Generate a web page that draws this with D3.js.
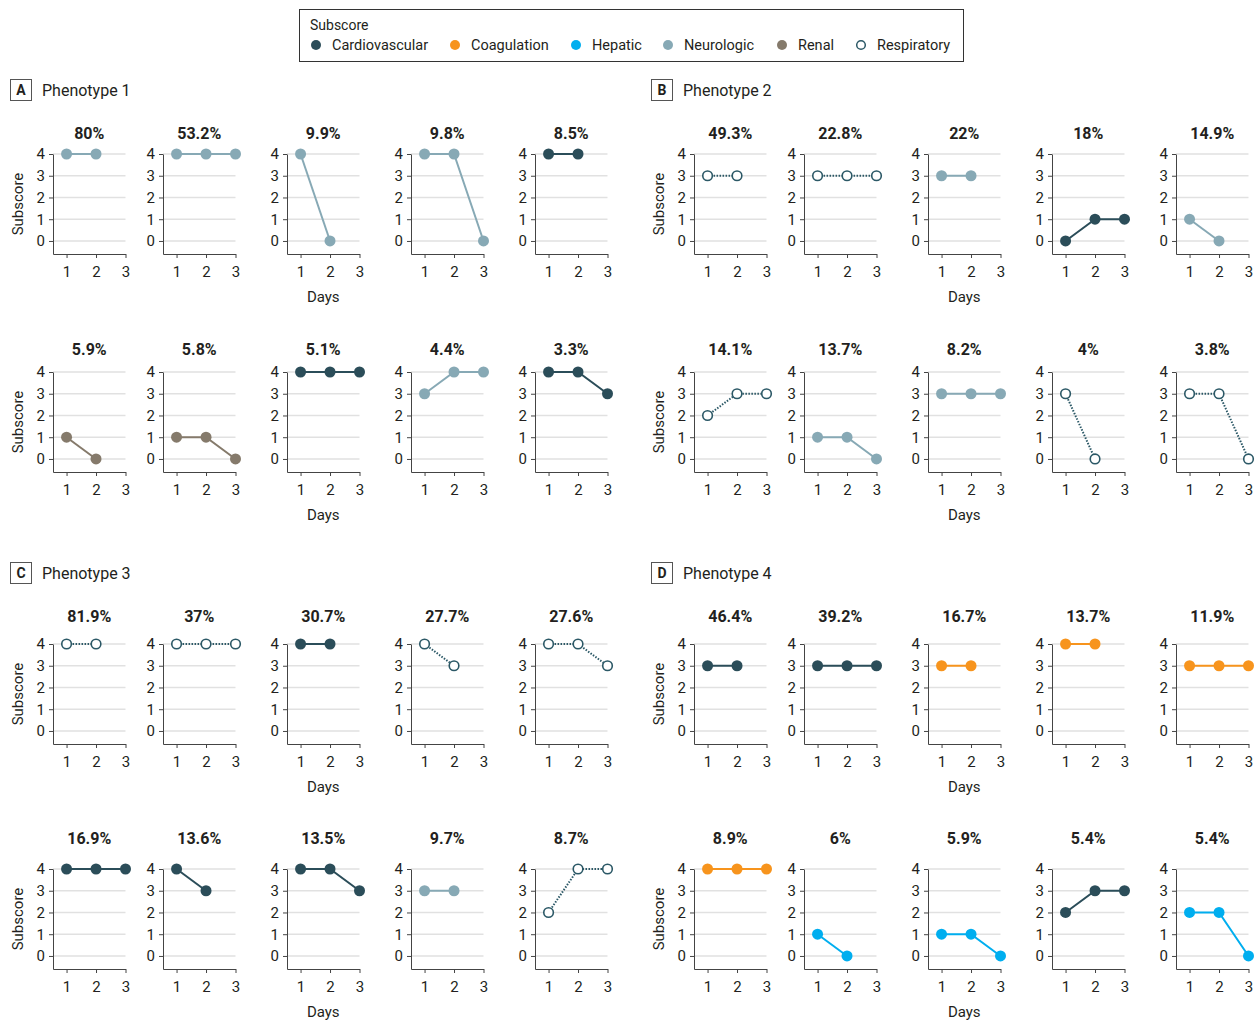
<!DOCTYPE html>
<html>
<head>
<meta charset="utf-8">
<script src="https://cdn.jsdelivr.net/npm/d3@7"></script>
<style>
  body { margin: 0; background: #fff; }
  text { font-family: Roboto, "Noto Sans", sans-serif; fill: #231f20; }
</style>
</head>
<body>
<svg id="chart"></svg>
<script>
// subscore categories and their legend order
var subscores = ["Cardiovascular", "Coagulation", "Hepatic", "Neurologic", "Renal", "Respiratory"];

var panelLetters = ["A", "B", "C", "D"];
var panelTitles = ["Phenotype 1", "Phenotype 2", "Phenotype 3", "Phenotype 4"];

var dayTicks = [1, 2, 3];
var scoreTicks = [0, 1, 2, 3, 4];

// each subplot: percentage label, subscore, values for day 1..n
var phenotype1 = [
  {pct: "80%",   sub: "Neurologic",     scores: [4, 4]},
  {pct: "53.2%", sub: "Neurologic",     scores: [4, 4, 4]},
  {pct: "9.9%",  sub: "Neurologic",     scores: [4, 0]},
  {pct: "9.8%",  sub: "Neurologic",     scores: [4, 4, 0]},
  {pct: "8.5%",  sub: "Cardiovascular", scores: [4, 4]},
  {pct: "5.9%",  sub: "Renal",          scores: [1, 0]},
  {pct: "5.8%",  sub: "Renal",          scores: [1, 1, 0]},
  {pct: "5.1%",  sub: "Cardiovascular", scores: [4, 4, 4]},
  {pct: "4.4%",  sub: "Neurologic",     scores: [3, 4, 4]},
  {pct: "3.3%",  sub: "Cardiovascular", scores: [4, 4, 3]}
];
var phenotype2 = [
  {pct: "49.3%", sub: "Respiratory",    scores: [3, 3]},
  {pct: "22.8%", sub: "Respiratory",    scores: [3, 3, 3]},
  {pct: "22%",   sub: "Neurologic",     scores: [3, 3]},
  {pct: "18%",   sub: "Cardiovascular", scores: [0, 1, 1]},
  {pct: "14.9%", sub: "Neurologic",     scores: [1, 0]},
  {pct: "14.1%", sub: "Respiratory",    scores: [2, 3, 3]},
  {pct: "13.7%", sub: "Neurologic",     scores: [1, 1, 0]},
  {pct: "8.2%",  sub: "Neurologic",     scores: [3, 3, 3]},
  {pct: "4%",    sub: "Respiratory",    scores: [3, 0]},
  {pct: "3.8%",  sub: "Respiratory",    scores: [3, 3, 0]}
];
var phenotype3 = [
  {pct: "81.9%", sub: "Respiratory",    scores: [4, 4]},
  {pct: "37%",   sub: "Respiratory",    scores: [4, 4, 4]},
  {pct: "30.7%", sub: "Cardiovascular", scores: [4, 4]},
  {pct: "27.7%", sub: "Respiratory",    scores: [4, 3]},
  {pct: "27.6%", sub: "Respiratory",    scores: [4, 4, 3]},
  {pct: "16.9%", sub: "Cardiovascular", scores: [4, 4, 4]},
  {pct: "13.6%", sub: "Cardiovascular", scores: [4, 3]},
  {pct: "13.5%", sub: "Cardiovascular", scores: [4, 4, 3]},
  {pct: "9.7%",  sub: "Neurologic",     scores: [3, 3]},
  {pct: "8.7%",  sub: "Respiratory",    scores: [2, 4, 4]}
];
var phenotype4 = [
  {pct: "46.4%", sub: "Cardiovascular", scores: [3, 3]},
  {pct: "39.2%", sub: "Cardiovascular", scores: [3, 3, 3]},
  {pct: "16.7%", sub: "Coagulation",    scores: [3, 3]},
  {pct: "13.7%", sub: "Coagulation",    scores: [4, 4]},
  {pct: "11.9%", sub: "Coagulation",    scores: [3, 3, 3]},
  {pct: "8.9%",  sub: "Coagulation",    scores: [4, 4, 4]},
  {pct: "6%",    sub: "Hepatic",        scores: [1, 0]},
  {pct: "5.9%",  sub: "Hepatic",        scores: [1, 1, 0]},
  {pct: "5.4%",  sub: "Cardiovascular", scores: [2, 3, 3]},
  {pct: "5.4%",  sub: "Hepatic",        scores: [2, 2, 0]}
];
var phenotypes = [phenotype1, phenotype2, phenotype3, phenotype4];

var width = 1258;
var height = 1022;

var svg = d3.select("#chart")
    .attr("width", width)
    .attr("height", height);

var color = d3.scaleOrdinal()
    .domain(subscores)
    .range(["#2b4d59", "#f7941d", "#00aeef", "#87a9b5", "#857a6b", "#2b5866"]);

// layout
var panelX = [0, 641];
var colX = [53, 163, 287, 411, 535];
var rowTop = [[154, 372], [644, 869]];   // y of score 4, per panel-row then row
var titleY = [[133, 349], [616, 838]];
var headY = [90, 573];
var plotW = 72.5, plotH = 100;

var x = d3.scaleLinear().domain([0.54, 3]).range([0, plotW]);
var y = d3.scaleLinear().domain([-0.6, 4]).range([plotH, 0]);

var line = d3.line()
    .x((d, i) => x(i + 1))
    .y(d => y(d));

// legend
var legend = svg.append("g");
legend.append("rect")
    .attr("x", 299.5).attr("y", 9.5)
    .attr("width", 664).attr("height", 52)
    .attr("fill", "none").attr("stroke", "#333").attr("stroke-width", 1);
legend.append("text")
    .attr("x", 310).attr("y", 25).attr("dy", "0.35em")
    .style("font-size", "14px").text("Subscore");
var legendX = [316, 455, 576, 668, 782, 861];
subscores.forEach((s, i) => {
  var open = s === "Respiratory";
  legend.append("circle")
      .attr("cx", legendX[i]).attr("cy", 45)
      .attr("r", open ? 4.3 : 5)
      .attr("fill", open ? "#fff" : color(s))
      .attr("stroke", open ? color(s) : "none")
      .attr("stroke-width", 1.5);
  legend.append("text")
      .attr("x", legendX[i] + 16).attr("y", 45).attr("dy", "0.35em")
      .style("font-size", "14.5px").text(s);
});

phenotypes.forEach((data, p) => {
  var pr = Math.floor(p / 2);
  var px = panelX[p % 2];

  // panel heading
  var head = svg.append("g").attr("transform", `translate(${px},${headY[pr]})`);
  head.append("rect")
      .attr("x", 10.5).attr("y", -10.5)
      .attr("width", 21).attr("height", 21)
      .attr("fill", "none").attr("stroke", "#555");
  head.append("text")
      .attr("x", 21).attr("dy", "0.35em").attr("text-anchor", "middle")
      .style("font-size", "14px").style("font-weight", "bold")
      .text(panelLetters[p]);
  head.append("text")
      .attr("x", 42).attr("dy", "0.35em")
      .style("font-size", "16px")
      .text(panelTitles[p]);

  data.forEach((d, k) => {
    var row = Math.floor(k / 5), col = k % 5;
    var g = svg.append("g")
        .attr("transform", `translate(${px + colX[col]},${rowTop[pr][row]})`);

    g.append("text")
        .attr("x", plotW / 2).attr("y", titleY[pr][row] - rowTop[pr][row])
        .attr("dy", "0.35em").attr("text-anchor", "middle")
        .style("font-size", "16px").style("font-weight", "bold")
        .text(d.pct);

    g.selectAll(".grid")
        .data(scoreTicks)
        .enter()
        .append("line")
        .attr("x1", 0).attr("x2", x(3))
        .attr("y1", d => y(d)).attr("y2", d => y(d))
        .attr("stroke", "#e1e1e1").attr("stroke-width", 1.5);

    var ya = g.append("g")
        .call(d3.axisLeft(y).tickValues(scoreTicks).tickFormat(d3.format("d"))
          .tickSize(4).tickSizeOuter(0).tickPadding(4));
    var xa = g.append("g")
        .attr("transform", `translate(0,${plotH})`)
        .call(d3.axisBottom(x).tickValues(dayTicks).tickFormat(d3.format("d"))
          .tickSize(4).tickSizeOuter(0).tickPadding(8));
    [ya, xa].forEach(a => {
      a.selectAll("path, line").attr("stroke", "#444");
      a.selectAll("text").style("font-size", "15px").style("font-family", null).attr("fill", null);
    });

    if (col === 0) {
      g.append("text")
          .attr("transform", `translate(-35,${plotH / 2}) rotate(-90)`)
          .attr("text-anchor", "middle").attr("dy", "0.35em")
          .style("font-size", "15px")
          .text("Subscore");
    }
    if (col === 2) {
      g.append("text")
          .attr("x", plotW / 2).attr("y", plotH + 43).attr("dy", "0.35em")
          .attr("text-anchor", "middle")
          .style("font-size", "15px")
          .text("Days");
    }

    var open = d.sub === "Respiratory";
    g.append("path")
        .attr("d", line(d.scores))
        .attr("fill", "none")
        .attr("stroke", color(d.sub))
        .attr("stroke-width", 2)
        .attr("stroke-dasharray", open ? "1.5,1.5" : null);

    g.selectAll(".pt")
        .data(d.scores)
        .enter()
        .append("circle")
        .attr("cx", (v, i) => x(i + 1))
        .attr("cy", v => y(v))
        .attr("r", open ? 4.8 : 5.5)
        .attr("fill", open ? "#fff" : color(d.sub))
        .attr("stroke", open ? color(d.sub) : "none")
        .attr("stroke-width", 1.6);
  });
});
</script>
</body>
</html>
